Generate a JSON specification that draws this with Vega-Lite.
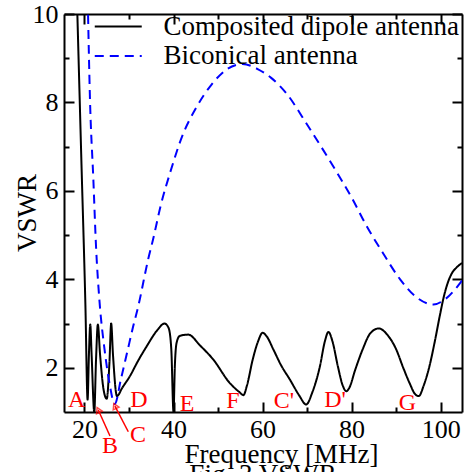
{
  "$schema": "https://vega.github.io/schema/vega-lite/v6.json",
  "width": 398,
  "height": 398,
  "autosize": {"type": "none"},
  "padding": {"left": 64, "top": 14, "right": 6, "bottom": 60},
  "background": "white",
  "config": {
    "font": "Liberation Serif",
    "view": {"stroke": null},
    "axis": {
      "domainColor": "black",
      "domainWidth": 2,
      "tickColor": "black",
      "tickWidth": 2,
      "grid": false,
      "labelColor": "black",
      "labelFont": "Liberation Serif",
      "labelFontSize": 26,
      "labelFlush": false,
      "labelOverlap": false,
      "titleFont": "Liberation Serif",
      "titleFontSize": 27,
      "titleFontWeight": "normal",
      "titleColor": "black"
    }
  },
  "title": {
    "text": "Fig. 3  VSWR",
    "orient": "bottom",
    "anchor": "middle",
    "font": "Liberation Serif",
    "fontSize": 27,
    "fontWeight": "normal",
    "color": "black",
    "offset": -5
  },
  "datasets": {
    "curves": [
      {"series": "Composited dipole antenna", "freq": 18.0, "vswr": 11.46},
      {"series": "Composited dipole antenna", "freq": 18.4, "vswr": 10.0},
      {"series": "Composited dipole antenna", "freq": 19.3, "vswr": 6.7},
      {"series": "Composited dipole antenna", "freq": 20.2, "vswr": 3.45},
      {"series": "Composited dipole antenna", "freq": 20.7, "vswr": 1.28},
      {"series": "Composited dipole antenna", "freq": 21.0, "vswr": 2.3},
      {"series": "Composited dipole antenna", "freq": 21.3, "vswr": 2.98},
      {"series": "Composited dipole antenna", "freq": 21.6, "vswr": 2.3},
      {"series": "Composited dipole antenna", "freq": 22.2, "vswr": 1.0},
      {"series": "Composited dipole antenna", "freq": 22.6, "vswr": 2.2},
      {"series": "Composited dipole antenna", "freq": 23.0, "vswr": 2.98},
      {"series": "Composited dipole antenna", "freq": 23.5, "vswr": 2.3},
      {"series": "Composited dipole antenna", "freq": 24.3, "vswr": 1.5},
      {"series": "Composited dipole antenna", "freq": 25.0, "vswr": 1.3},
      {"series": "Composited dipole antenna", "freq": 25.6, "vswr": 2.1},
      {"series": "Composited dipole antenna", "freq": 26.0, "vswr": 3.0},
      {"series": "Composited dipole antenna", "freq": 26.4, "vswr": 2.3},
      {"series": "Composited dipole antenna", "freq": 27.3, "vswr": 1.36},
      {"series": "Composited dipole antenna", "freq": 28.5, "vswr": 1.55},
      {"series": "Composited dipole antenna", "freq": 30.2, "vswr": 1.81},
      {"series": "Composited dipole antenna", "freq": 32.0, "vswr": 2.15},
      {"series": "Composited dipole antenna", "freq": 34.0, "vswr": 2.49},
      {"series": "Composited dipole antenna", "freq": 36.2, "vswr": 2.83},
      {"series": "Composited dipole antenna", "freq": 38.0, "vswr": 3.0},
      {"series": "Composited dipole antenna", "freq": 38.9, "vswr": 2.9},
      {"series": "Composited dipole antenna", "freq": 39.5, "vswr": 2.42},
      {"series": "Composited dipole antenna", "freq": 40.0, "vswr": 1.0},
      {"series": "Composited dipole antenna", "freq": 40.3, "vswr": 2.04},
      {"series": "Composited dipole antenna", "freq": 40.7, "vswr": 2.57},
      {"series": "Composited dipole antenna", "freq": 41.4, "vswr": 2.72},
      {"series": "Composited dipole antenna", "freq": 43.3, "vswr": 2.75},
      {"series": "Composited dipole antenna", "freq": 46.0, "vswr": 2.5},
      {"series": "Composited dipole antenna", "freq": 48.9, "vswr": 2.19},
      {"series": "Composited dipole antenna", "freq": 52.6, "vswr": 1.66},
      {"series": "Composited dipole antenna", "freq": 54.8, "vswr": 1.45},
      {"series": "Composited dipole antenna", "freq": 55.7, "vswr": 1.38},
      {"series": "Composited dipole antenna", "freq": 56.5, "vswr": 1.6},
      {"series": "Composited dipole antenna", "freq": 57.8, "vswr": 2.19},
      {"series": "Composited dipole antenna", "freq": 59.0, "vswr": 2.6},
      {"series": "Composited dipole antenna", "freq": 60.0, "vswr": 2.79},
      {"series": "Composited dipole antenna", "freq": 61.0, "vswr": 2.7},
      {"series": "Composited dipole antenna", "freq": 62.4, "vswr": 2.42},
      {"series": "Composited dipole antenna", "freq": 64.2, "vswr": 2.05},
      {"series": "Composited dipole antenna", "freq": 66.1, "vswr": 1.74},
      {"series": "Composited dipole antenna", "freq": 68.2, "vswr": 1.38},
      {"series": "Composited dipole antenna", "freq": 69.8, "vswr": 1.17},
      {"series": "Composited dipole antenna", "freq": 71.2, "vswr": 1.45},
      {"series": "Composited dipole antenna", "freq": 72.9, "vswr": 2.04},
      {"series": "Composited dipole antenna", "freq": 74.0, "vswr": 2.6},
      {"series": "Composited dipole antenna", "freq": 74.8, "vswr": 2.81},
      {"series": "Composited dipole antenna", "freq": 75.7, "vswr": 2.6},
      {"series": "Composited dipole antenna", "freq": 76.9, "vswr": 2.04},
      {"series": "Composited dipole antenna", "freq": 78.0, "vswr": 1.6},
      {"series": "Composited dipole antenna", "freq": 78.8, "vswr": 1.47},
      {"series": "Composited dipole antenna", "freq": 79.5, "vswr": 1.55},
      {"series": "Composited dipole antenna", "freq": 80.8, "vswr": 1.95},
      {"series": "Composited dipole antenna", "freq": 82.5, "vswr": 2.42},
      {"series": "Composited dipole antenna", "freq": 84.2, "vswr": 2.78},
      {"series": "Composited dipole antenna", "freq": 86.1, "vswr": 2.89},
      {"series": "Composited dipole antenna", "freq": 88.0, "vswr": 2.75},
      {"series": "Composited dipole antenna", "freq": 90.0, "vswr": 2.42},
      {"series": "Composited dipole antenna", "freq": 91.6, "vswr": 2.0},
      {"series": "Composited dipole antenna", "freq": 93.0, "vswr": 1.66},
      {"series": "Composited dipole antenna", "freq": 94.3, "vswr": 1.4},
      {"series": "Composited dipole antenna", "freq": 95.1, "vswr": 1.36},
      {"series": "Composited dipole antenna", "freq": 96.2, "vswr": 1.6},
      {"series": "Composited dipole antenna", "freq": 97.5, "vswr": 2.04},
      {"series": "Composited dipole antenna", "freq": 98.7, "vswr": 2.6},
      {"series": "Composited dipole antenna", "freq": 99.8, "vswr": 3.17},
      {"series": "Composited dipole antenna", "freq": 100.7, "vswr": 3.6},
      {"series": "Composited dipole antenna", "freq": 101.6, "vswr": 3.92},
      {"series": "Composited dipole antenna", "freq": 102.6, "vswr": 4.15},
      {"series": "Composited dipole antenna", "freq": 103.5, "vswr": 4.26},
      {"series": "Composited dipole antenna", "freq": 104.8, "vswr": 4.37},
      {"series": "Biconical antenna", "freq": 20.6, "vswr": 11.0},
      {"series": "Biconical antenna", "freq": 20.8, "vswr": 10.0},
      {"series": "Biconical antenna", "freq": 21.2, "vswr": 8.2},
      {"series": "Biconical antenna", "freq": 22.0, "vswr": 6.24},
      {"series": "Biconical antenna", "freq": 22.6, "vswr": 4.73},
      {"series": "Biconical antenna", "freq": 23.3, "vswr": 3.6},
      {"series": "Biconical antenna", "freq": 24.5, "vswr": 2.42},
      {"series": "Biconical antenna", "freq": 25.6, "vswr": 1.66},
      {"series": "Biconical antenna", "freq": 26.8, "vswr": 1.18},
      {"series": "Biconical antenna", "freq": 28.2, "vswr": 1.75},
      {"series": "Biconical antenna", "freq": 29.7, "vswr": 2.4},
      {"series": "Biconical antenna", "freq": 30.9, "vswr": 2.92},
      {"series": "Biconical antenna", "freq": 32.1, "vswr": 3.4},
      {"series": "Biconical antenna", "freq": 34.3, "vswr": 4.45},
      {"series": "Biconical antenna", "freq": 35.4, "vswr": 4.9},
      {"series": "Biconical antenna", "freq": 37.2, "vswr": 5.7},
      {"series": "Biconical antenna", "freq": 39.2, "vswr": 6.4},
      {"series": "Biconical antenna", "freq": 42.0, "vswr": 7.25},
      {"series": "Biconical antenna", "freq": 45.2, "vswr": 7.9},
      {"series": "Biconical antenna", "freq": 48.5, "vswr": 8.4},
      {"series": "Biconical antenna", "freq": 52.0, "vswr": 8.75},
      {"series": "Biconical antenna", "freq": 55.5, "vswr": 8.87},
      {"series": "Biconical antenna", "freq": 59.0, "vswr": 8.75},
      {"series": "Biconical antenna", "freq": 62.0, "vswr": 8.55},
      {"series": "Biconical antenna", "freq": 65.4, "vswr": 8.2},
      {"series": "Biconical antenna", "freq": 70.0, "vswr": 7.5},
      {"series": "Biconical antenna", "freq": 75.9, "vswr": 6.55},
      {"series": "Biconical antenna", "freq": 80.0, "vswr": 5.85},
      {"series": "Biconical antenna", "freq": 83.4, "vswr": 5.2},
      {"series": "Biconical antenna", "freq": 87.0, "vswr": 4.6},
      {"series": "Biconical antenna", "freq": 90.9, "vswr": 4.0},
      {"series": "Biconical antenna", "freq": 94.5, "vswr": 3.6},
      {"series": "Biconical antenna", "freq": 98.4, "vswr": 3.43},
      {"series": "Biconical antenna", "freq": 101.0, "vswr": 3.55},
      {"series": "Biconical antenna", "freq": 103.8, "vswr": 3.84},
      {"series": "Biconical antenna", "freq": 104.8, "vswr": 3.97}
    ],
    "labels": [
      {"label": "A", "freq": 18.25, "vswr": 1.28},
      {"label": "B", "freq": 25.73, "vswr": 0.22},
      {"label": "C", "freq": 32.02, "vswr": 0.49},
      {"label": "D", "freq": 32.24, "vswr": 1.27},
      {"label": "E", "freq": 43.02, "vswr": 1.18},
      {"label": "F", "freq": 53.36, "vswr": 1.25},
      {"label": "C'", "freq": 64.81, "vswr": 1.25},
      {"label": "D'", "freq": 76.27, "vswr": 1.27},
      {"label": "G", "freq": 92.55, "vswr": 1.2}
    ],
    "arrows": [
      {"name": "B", "freq": 25.73, "vswr": 0.457, "freq2": 23.1, "vswr2": 1.045},
      {"name": "C", "freq": 29.84, "vswr": 0.554, "freq2": 26.85, "vswr2": 1.135}
    ]
  },
  "layer": [
    {
      "data": {"name": "curves"},
      "mark": {"type": "line", "clip": true, "strokeWidth": 2, "interpolate": "monotone"},
      "encoding": {
        "x": {
          "field": "freq", "type": "quantitative",
          "scale": {"domain": [15.4, 104.8], "nice": false, "zero": false},
          "axis": {
            "orient": "bottom",
            "values": [20, 30, 40, 50, 60, 70, 80, 90, 100],
            "labelExpr": "datum.value % 20 === 0 ? datum.label : ''",
            "tickSize": {"condition": {"test": "datum.value % 20 === 0", "value": -10}, "value": -5},
            "labelPadding": 14,
            "title": "Frequency [MHz]",
            "titleX": 217,
            "titleY": 50,
            "titleAlign": "center",
            "titleBaseline": "alphabetic"
          }
        },
        "y": {
          "field": "vswr", "type": "quantitative",
          "scale": {"domain": [1, 10], "nice": false, "zero": false},
          "axis": {
            "orient": "left",
            "values": [2, 3, 4, 5, 6, 7, 8, 9, 10],
            "labelExpr": "datum.value % 2 === 0 ? datum.label : ''",
            "tickSize": {"condition": {"test": "datum.value % 2 === 0", "value": -10}, "value": -5},
            "labelPadding": 16,
            "title": "VSWR",
            "titleAngle": -90,
            "titleX": -29,
            "titleY": 198.5,
            "titleAlign": "center",
            "titleBaseline": "alphabetic"
          }
        },
        "color": {
          "field": "series", "type": "nominal",
          "scale": {"domain": ["Composited dipole antenna", "Biconical antenna"], "range": ["black", "#0000ff"]},
          "legend": {
            "title": null, "orient": "none", "legendX": 40.75, "legendY": -1, "padding": 0,
            "labelFont": "Liberation Serif", "labelFontSize": 27, "labelColor": "black", "labelLimit": 400,
            "symbolType": "M-2,0H2", "symbolSize": 552, "symbolStrokeWidth": 2, "symbolFillColor": "transparent",
            "labelOffset": 31.75, "rowPadding": 1.5
          }
        },
        "strokeDash": {
          "field": "series", "type": "nominal",
          "scale": {"domain": ["Composited dipole antenna", "Biconical antenna"], "range": [[1, 0], [9, 6]]},
          "legend": {
            "title": null, "orient": "none", "legendX": 40.75, "legendY": -1, "padding": 0,
            "labelFont": "Liberation Serif", "labelFontSize": 27, "labelColor": "black", "labelLimit": 400,
            "symbolType": "M-2,0H2", "symbolSize": 552, "symbolStrokeWidth": 2, "symbolFillColor": "transparent",
            "labelOffset": 31.75, "rowPadding": 1.5
          }
        }
      }
    },
    {
      "data": {"name": "labels"},
      "mark": {"type": "text", "color": "red", "font": "Liberation Serif", "fontSize": 24, "align": "center", "baseline": "middle"},
      "encoding": {
        "x": {
          "field": "freq", "type": "quantitative",
          "scale": {"domain": [15.4, 104.8], "nice": false, "zero": false},
          "axis": {
            "orient": "top",
            "values": [20, 30, 40, 50, 60, 70, 80, 90, 100],
            "labels": false,
            "title": null,
            "tickSize": {"condition": {"test": "datum.value % 20 === 0", "value": -10}, "value": -5}
          }
        },
        "y": {
          "field": "vswr", "type": "quantitative",
          "scale": {"domain": [1, 10], "nice": false, "zero": false},
          "axis": {
            "orient": "right",
            "values": [2, 3, 4, 5, 6, 7, 8, 9, 10],
            "labels": false,
            "title": null,
            "tickSize": {"condition": {"test": "datum.value % 2 === 0", "value": -10}, "value": -5}
          }
        },
        "text": {"field": "label", "type": "nominal"}
      }
    },
    {
      "data": {"name": "arrows"},
      "mark": {"type": "rule", "color": "red", "strokeWidth": 1.5},
      "encoding": {
        "x": {"field": "freq", "type": "quantitative", "scale": {"domain": [15.4, 104.8], "nice": false, "zero": false}, "axis": null},
        "y": {"field": "vswr", "type": "quantitative", "scale": {"domain": [1, 10], "nice": false, "zero": false}, "axis": null},
        "x2": {"field": "freq2"},
        "y2": {"field": "vswr2"}
      }
    },
    {
      "data": {"name": "arrows"},
      "mark": {"type": "point", "shape": "triangle-up", "angle": -25, "size": 40, "color": "red", "filled": false, "strokeWidth": 1.5},
      "encoding": {
        "x": {"field": "freq2", "type": "quantitative", "scale": {"domain": [15.4, 104.8], "nice": false, "zero": false}, "axis": null},
        "y": {"field": "vswr2", "type": "quantitative", "scale": {"domain": [1, 10], "nice": false, "zero": false}, "axis": null}
      }
    }
  ],
  "resolve": {"axis": {"x": "independent", "y": "independent"}}
}
